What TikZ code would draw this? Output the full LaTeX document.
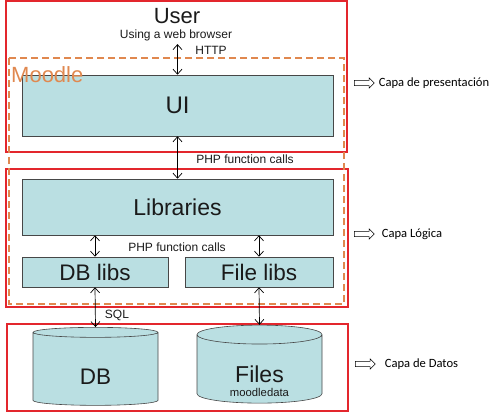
\documentclass[tikz,border=0pt]{standalone}
\usepackage{fontspec}
\setmainfont{Liberation Sans}
\newfontfamily\tagfont{Carlito}
\usetikzlibrary{arrows.meta,positioning,calc,shapes.geometric,shapes.arrows}
\definecolor{LayerRed}{HTML}{E3262D}
\definecolor{MoodleOrange}{HTML}{E0884F}
\definecolor{BoxCyan}{HTML}{BADFE2}
\definecolor{BoxEdge}{HTML}{474747}
\definecolor{InkDark}{HTML}{1A1A1A}

\tikzset{
  layerframe/.style={draw=LayerRed,line width=1.8pt},
  moodleframe/.style={draw=MoodleOrange,line width=1.1pt,dash pattern=on 7pt off 4pt},
  modbox/.style={draw=BoxEdge,fill=BoxCyan,line width=0.6pt,inner sep=0pt,text=InkDark},
  store/.style={cylinder,shape border rotate=90,aspect=0.32,draw=BoxEdge,fill=BoxCyan,
    line width=0.6pt,minimum width=125pt,minimum height=78pt,inner sep=0pt,text=InkDark},
  callarrow/.style={line width=0.7pt,{Straight Barb[length=5pt,width=9pt]}-{Straight Barb[length=5pt,width=9pt]}},
  layertag/.style={single arrow,draw,line width=0.5pt,minimum height=20pt,inner sep=2.3pt,
    single arrow head extend=2.5pt},
  smalltext/.style={font=\fontsize{12}{14}\selectfont,text=InkDark},
  tagtext/.style={anchor=west,inner sep=1pt,font=\tagfont\fontsize{12.6}{15}\selectfont},
}

\begin{document}
\begin{tikzpicture}[x=1pt,y=-1pt]
\useasboundingbox (0,0) rectangle (492,412);

% capas
\draw[layerframe] (6,1) rectangle (347,152);
\draw[layerframe] (6,169) rectangle (348,307);
\draw[layerframe] (7,324) rectangle (348,411);
\draw[moodleframe] (9,58) rectangle (344,304);

% modulos
\node[modbox,minimum width=311pt,minimum height=61pt,font=\fontsize{24}{28}\selectfont]
  (ui) at (177.5,105.5) {UI};
\node[modbox,minimum width=311pt,minimum height=56pt,font=\fontsize{23}{27}\selectfont]
  (libs) at (177.5,207) {Libraries};
\node[modbox,minimum width=146pt,minimum height=30pt,font=\fontsize{22.5}{26}\selectfont]
  (dblibs) at (95,272) {DB libs};
\node[modbox,minimum width=148pt,minimum height=30pt,font=\fontsize{22.5}{26}\selectfont]
  (filelibs) at (259,272) {File libs};
\node[store] (db) at (95.5,369)
  {\raisebox{-15pt}[0pt][0pt]{\fontsize{22.5}{26}\selectfont DB}};
\node[store] (files) at (259.5,369)
  {\fontsize{11.3}{14}\selectfont\raisebox{-13pt}[0pt][0pt]{\begin{tabular}[t]{@{}c@{}}
     {\fontsize{23}{27}\selectfont Files}\\ moodledata\end{tabular}}};

% textos
\node[font=\fontsize{22}{26}\selectfont,text=InkDark] (user) at (177,16) {User};
\node[smalltext] (browser) at (176,35) {Using a web browser};
\node[smalltext] (http) at (211,50) {HTTP};
\node[smalltext] (phpa) at (245,159) {PHP function calls};
\node[smalltext] (phpb) at (177,247) {PHP function calls};
\node[smalltext] (sql) at (117,315) {SQL};
\node[anchor=west,text=MoodleOrange,font=\fontsize{22}{26}\selectfont,inner sep=0pt]
  (moodle) at (11,75) {Moodle};

% llamadas
\draw[callarrow] (browser.south -| ui.north) -- (ui.north);
\draw[callarrow] (ui.south) -- (libs.north);
\draw[callarrow] (dblibs.north |- libs.south) -- (dblibs.north);
\draw[callarrow] (filelibs.north |- libs.south) -- (filelibs.north);
\draw[callarrow] (dblibs.south) -- (db.north);
\draw[callarrow] (filelibs.south) -- (files.north);

% etiquetas de capa
\node[layertag] (tagp) at (363,83) {};
\node[layertag] (tagl) at (363,234) {};
\node[layertag] (tagd) at (364,364) {};
\node[tagtext] (capap) at ([xshift=3pt]tagp.east) {Capa de presentación};
\node[tagtext] (capal) at ([xshift=6pt]tagl.east) {Capa Lógica};
\node[tagtext] (capad) at ([xshift=8pt]tagd.east) {Capa de Datos};
\end{tikzpicture}
\end{document}
